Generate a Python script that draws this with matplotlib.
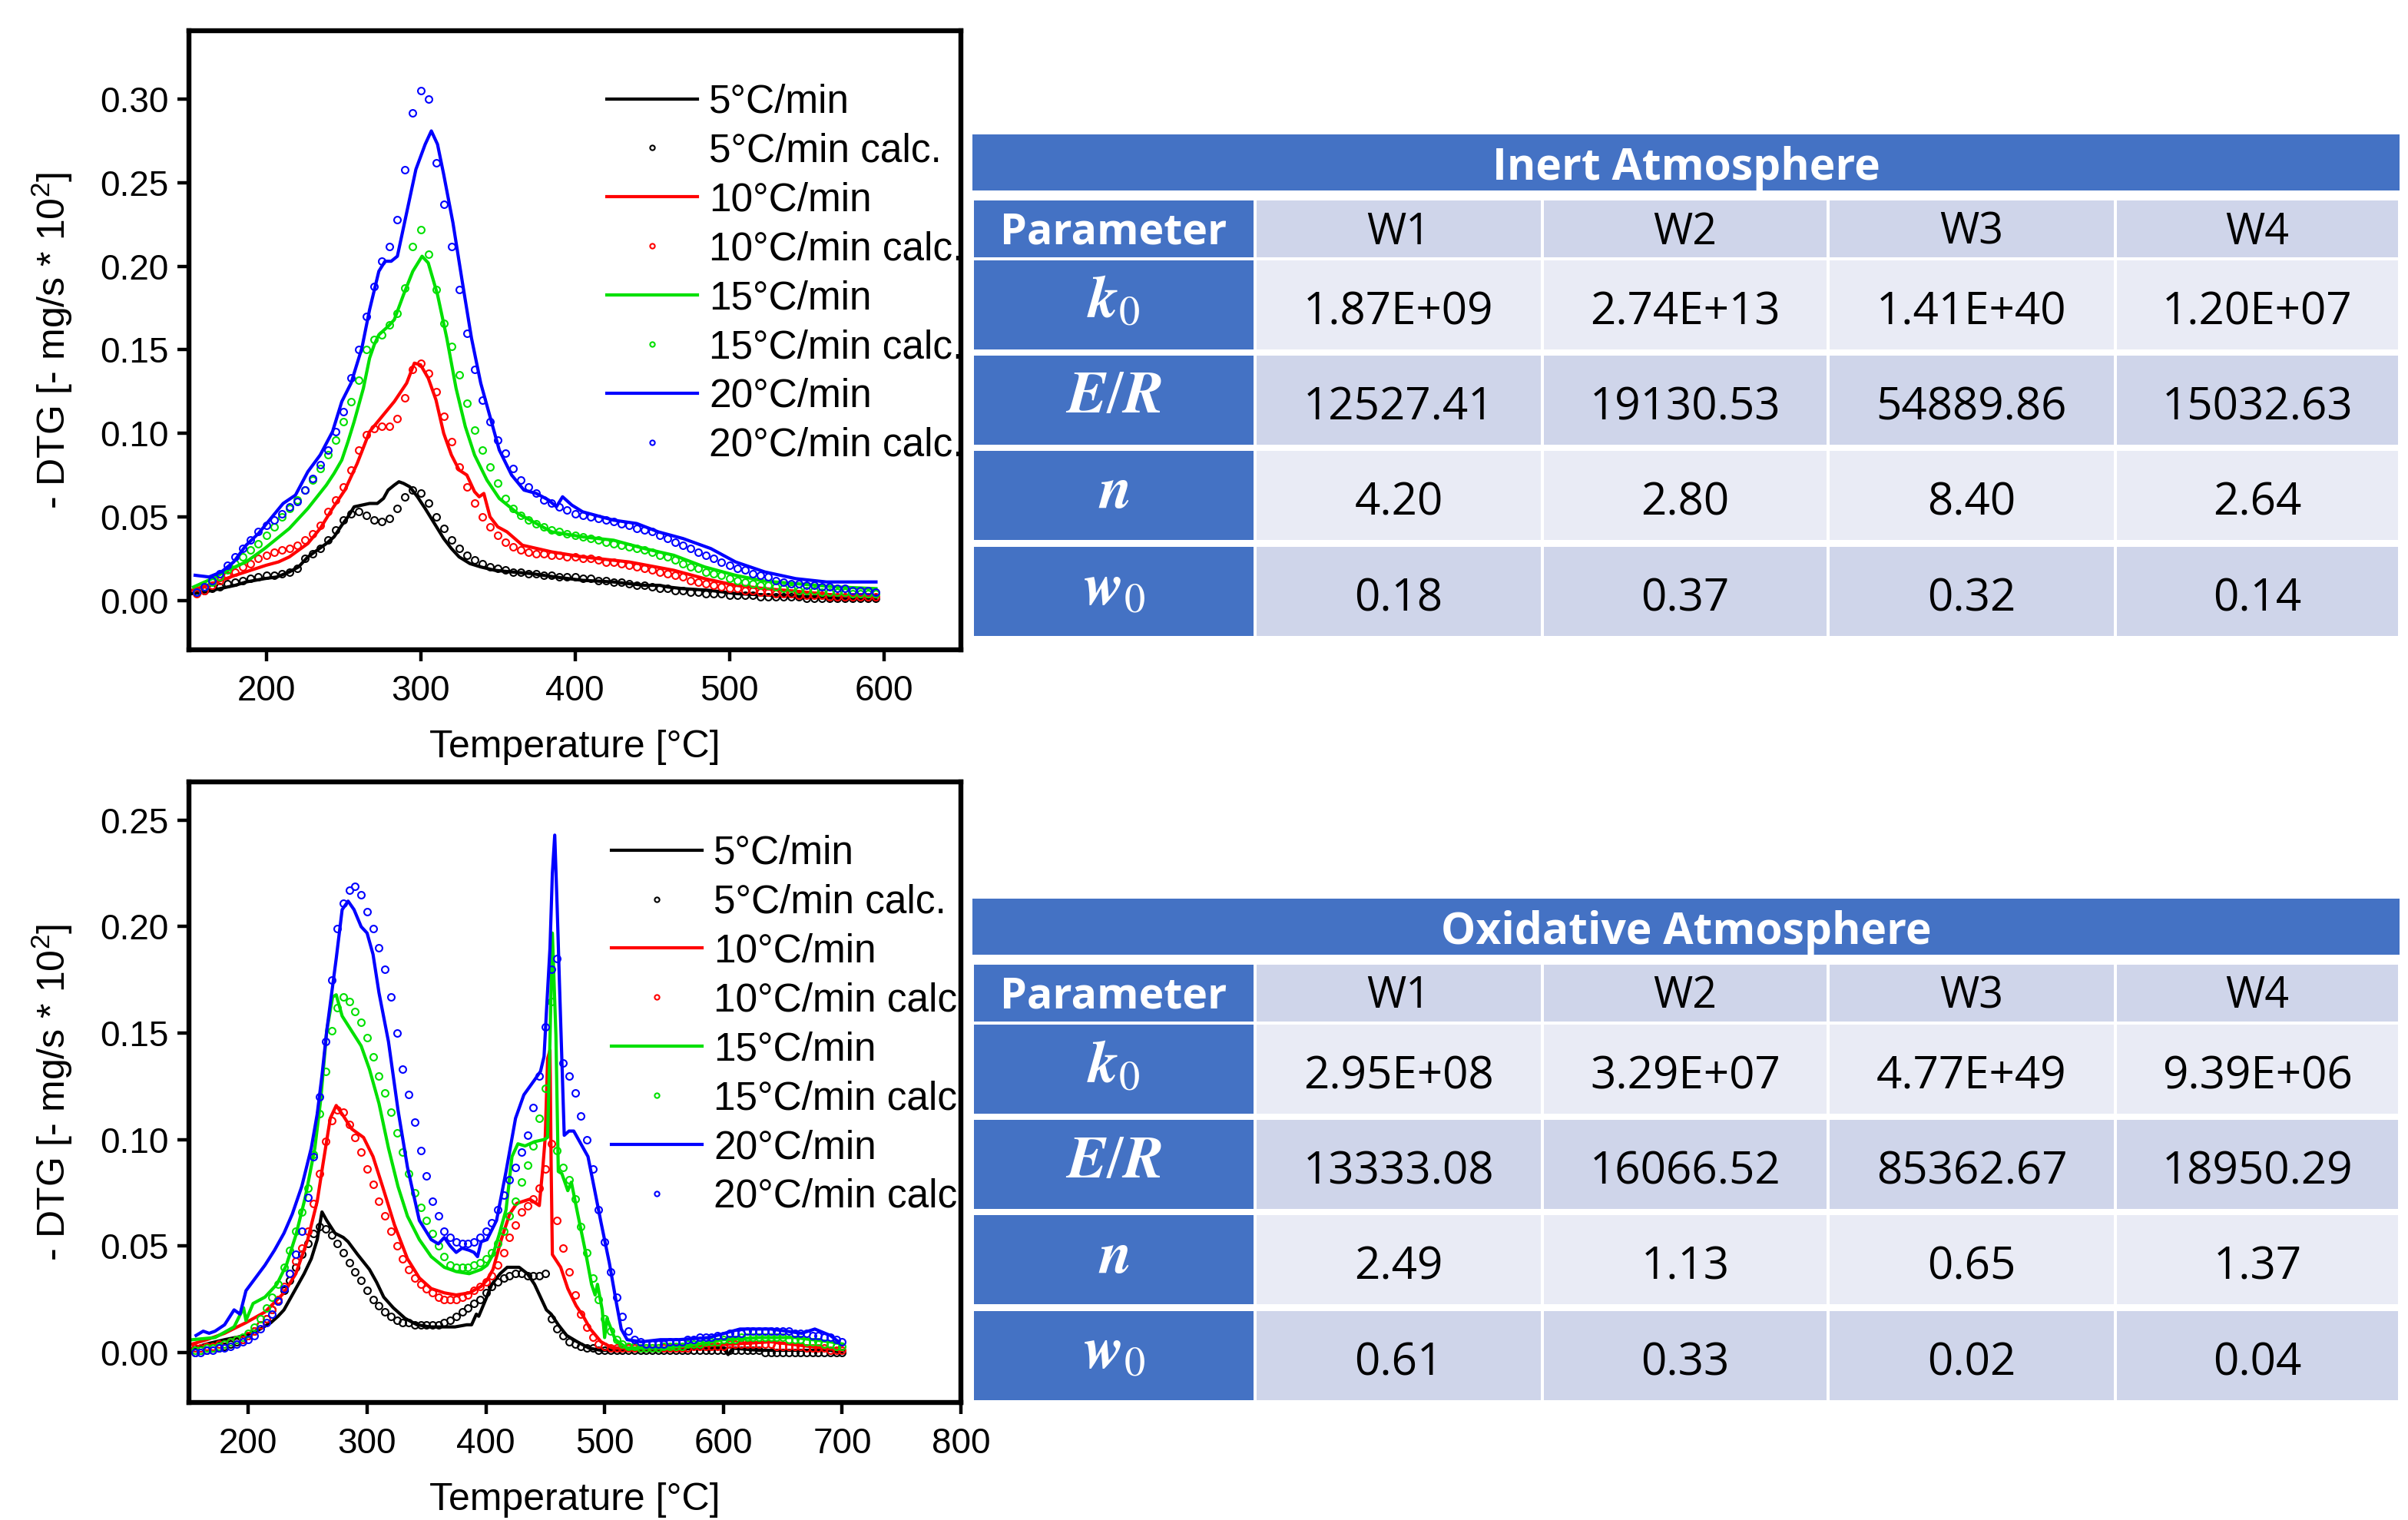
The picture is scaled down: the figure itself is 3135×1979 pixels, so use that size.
import matplotlib.pyplot as plt
from matplotlib.patches import Rectangle

plt.rcParams['font.family'] = 'Liberation Sans'
plt.rcParams['mathtext.fontset'] = 'custom'
plt.rcParams['mathtext.rm'] = 'Liberation Sans'
plt.rcParams['mathtext.it'] = 'Liberation Sans:italic'

rates = ['5°C/min', '10°C/min', '15°C/min', '20°C/min']
colors = ['black', '#ff0000', '#00e000', '#0000ff']

# ---------------- inert atmosphere (top) ----------------
t_in_5 = [152, 160, 170, 180, 187, 199, 207, 215, 221, 227, 233, 239, 244, 249, 253, 257, 262, 267, 272, 276,
          279, 283, 286, 289, 293, 298, 303, 309, 315, 320, 325, 332, 339, 348, 359, 372, 387, 405, 425, 445,
          455, 460, 470, 487, 505, 527, 550, 575, 595]
v_in_5 = [0.004, 0.005, 0.007, 0.009, 0.011, 0.013, 0.014, 0.017, 0.020, 0.026, 0.030, 0.034, 0.038, 0.045, 0.050, 0.056, 0.057, 0.058, 0.058, 0.061,
          0.066, 0.069, 0.071, 0.070, 0.068, 0.062, 0.055, 0.046, 0.037, 0.031, 0.026, 0.022, 0.020, 0.018, 0.017, 0.016, 0.014, 0.012, 0.011, 0.009,
          0.009, 0.008, 0.007, 0.006, 0.004, 0.003, 0.002, 0.001, 0.001]

t_in_10 = [152, 165, 180, 190, 200, 208, 215, 227, 235, 243, 251, 259, 267, 275, 283, 291, 296, 300, 305, 310,
           315, 320, 325, 330, 335, 338, 341, 345, 350, 356, 366, 385, 405, 435, 464, 484, 504, 523, 543, 570, 595]
v_in_10 = [0.006, 0.010, 0.015, 0.018, 0.021, 0.023, 0.026, 0.034, 0.043, 0.055, 0.066, 0.082, 0.101, 0.110, 0.119, 0.130, 0.142, 0.141, 0.133, 0.120,
           0.100, 0.087, 0.078, 0.075, 0.065, 0.062, 0.064, 0.050, 0.044, 0.041, 0.033, 0.029, 0.026, 0.023, 0.018, 0.013, 0.009, 0.007, 0.0055, 0.003, 0.002]

t_in_15 = [153, 165, 175, 187, 199, 207, 215, 221, 227, 233, 239, 244, 249, 253, 257, 260, 263, 267, 270, 273,
           279, 283, 289, 295, 301, 305, 311, 317, 323, 329, 335, 343, 351, 363, 375, 385, 405, 425, 445, 464,
           484, 504, 523, 543, 570, 595]
v_in_15 = [0.008, 0.013, 0.018, 0.023, 0.031, 0.037, 0.043, 0.049, 0.055, 0.062, 0.069, 0.076, 0.084, 0.095, 0.107, 0.117, 0.127, 0.145, 0.153, 0.159,
           0.164, 0.168, 0.183, 0.197, 0.206, 0.202, 0.183, 0.157, 0.127, 0.104, 0.087, 0.072, 0.061, 0.052, 0.046, 0.041, 0.038, 0.036, 0.031, 0.027,
           0.020, 0.015, 0.0115, 0.010, 0.008, 0.007]

t_in_20 = [154, 163, 171, 179, 187, 195, 203, 211, 219, 227, 235, 243, 249, 255, 262, 267, 273, 277, 281, 285,
           291, 297, 303, 307, 311, 315, 321, 327, 333, 339, 345, 351, 359, 367, 375, 383, 388, 392, 398, 405,
           425, 440, 454, 470, 488, 504, 523, 543, 563, 580, 595]
v_in_20 = [0.015, 0.014, 0.017, 0.023, 0.033, 0.040, 0.049, 0.058, 0.063, 0.077, 0.087, 0.101, 0.119, 0.130, 0.151, 0.174, 0.197, 0.203, 0.203, 0.206,
           0.232, 0.258, 0.273, 0.281, 0.273, 0.255, 0.226, 0.191, 0.157, 0.130, 0.110, 0.090, 0.075, 0.066, 0.064, 0.060, 0.056, 0.062, 0.057, 0.053,
           0.048, 0.046, 0.041, 0.037, 0.031, 0.023, 0.017, 0.013, 0.011, 0.011, 0.011]

t_in_calc = list(range(155, 600, 5))
c_in_5 = [0.005, 0.006, 0.007, 0.008, 0.010, 0.011, 0.012, 0.013, 0.014, 0.015,
          0.015, 0.016, 0.017, 0.019, 0.025, 0.028, 0.031, 0.036, 0.042, 0.048,
          0.052, 0.053, 0.051, 0.048, 0.047, 0.049, 0.055, 0.062, 0.066, 0.064,
          0.058, 0.050, 0.043, 0.036, 0.031, 0.027, 0.024, 0.022, 0.020, 0.019,
          0.018, 0.017, 0.017, 0.016, 0.016, 0.015, 0.015, 0.014, 0.014, 0.014,
          0.013, 0.013, 0.012, 0.012, 0.011, 0.011, 0.010, 0.009, 0.009, 0.008,
          0.007, 0.007, 0.006, 0.006, 0.005, 0.005, 0.004, 0.004, 0.004, 0.003,
          0.003, 0.003, 0.003, 0.002, 0.002, 0.002, 0.002, 0.002, 0.002, 0.001,
          0.001, 0.001, 0.001, 0.001, 0.001, 0.001, 0.001, 0.001, 0.001]
c_in_10 = [0.004, 0.006, 0.009, 0.012, 0.015, 0.017, 0.020, 0.022, 0.025, 0.027,
           0.029, 0.030, 0.031, 0.033, 0.036, 0.040, 0.045, 0.053, 0.060, 0.068,
           0.078, 0.090, 0.099, 0.103, 0.104, 0.104, 0.109, 0.121, 0.138, 0.142,
           0.136, 0.125, 0.110, 0.095, 0.080, 0.068, 0.058, 0.050, 0.044, 0.039,
           0.035, 0.032, 0.030, 0.029, 0.028, 0.028, 0.027, 0.027, 0.026, 0.026,
           0.025, 0.025, 0.024, 0.023, 0.023, 0.022, 0.021, 0.020, 0.019, 0.018,
           0.017, 0.016, 0.015, 0.014, 0.012, 0.011, 0.010, 0.009, 0.008, 0.007,
           0.007, 0.006, 0.006, 0.005, 0.005, 0.004, 0.004, 0.004, 0.003, 0.003,
           0.003, 0.003, 0.002, 0.002, 0.002, 0.002, 0.002, 0.002, 0.002]
c_in_15 = [0.005, 0.008, 0.011, 0.014, 0.018, 0.022, 0.026, 0.030, 0.034, 0.039,
           0.044, 0.050, 0.055, 0.060, 0.066, 0.072, 0.079, 0.087, 0.096, 0.107,
           0.119, 0.132, 0.150, 0.156, 0.159, 0.165, 0.172, 0.187, 0.212, 0.222,
           0.207, 0.186, 0.166, 0.152, 0.135, 0.118, 0.102, 0.090, 0.080, 0.070,
           0.061, 0.055, 0.051, 0.048, 0.046, 0.044, 0.042, 0.041, 0.040, 0.039,
           0.038, 0.037, 0.036, 0.035, 0.034, 0.033, 0.032, 0.031, 0.030, 0.029,
           0.027, 0.026, 0.024, 0.022, 0.020, 0.019, 0.017, 0.016, 0.015, 0.013,
           0.012, 0.011, 0.010, 0.009, 0.009, 0.008, 0.007, 0.007, 0.006, 0.006,
           0.006, 0.005, 0.005, 0.005, 0.005, 0.004, 0.004, 0.004, 0.004]
c_in_20 = [0.005, 0.008, 0.012, 0.016, 0.021, 0.026, 0.031, 0.036, 0.041, 0.045,
           0.048, 0.052, 0.056, 0.059, 0.066, 0.073, 0.081, 0.090, 0.101, 0.113,
           0.133, 0.150, 0.170, 0.188, 0.203, 0.212, 0.228, 0.258, 0.292, 0.305,
           0.300, 0.262, 0.237, 0.212, 0.186, 0.160, 0.138, 0.120, 0.107, 0.096,
           0.088, 0.079, 0.072, 0.068, 0.064, 0.060, 0.058, 0.056, 0.054, 0.052,
           0.051, 0.050, 0.049, 0.048, 0.047, 0.046, 0.045, 0.043, 0.042, 0.041,
           0.039, 0.037, 0.035, 0.033, 0.031, 0.029, 0.027, 0.025, 0.023, 0.021,
           0.019, 0.018, 0.016, 0.015, 0.014, 0.012, 0.011, 0.010, 0.010, 0.009,
           0.009, 0.008, 0.008, 0.007, 0.007, 0.006, 0.006, 0.006, 0.005]

# ---------------- oxidative atmosphere (bottom) ----------------
t_ox_5 = [154, 165, 180, 198, 210, 219, 225, 230, 240, 247, 253, 258, 262, 266, 273, 280, 284, 292, 302, 308,
          314, 322, 332, 342, 353, 364, 374, 384, 388, 392, 394, 400, 405, 412, 418, 423, 428, 435, 441, 446,
          451, 455, 461, 468, 477, 487, 497, 520, 550, 580, 600, 604, 608, 630, 660, 690, 700]
v_ox_5 = [0.002, 0.004, 0.006, 0.008, 0.011, 0.014, 0.017, 0.020, 0.030, 0.037, 0.044, 0.053, 0.066, 0.062, 0.056, 0.054, 0.052, 0.046, 0.039, 0.033,
          0.026, 0.021, 0.016, 0.013, 0.012, 0.012, 0.012, 0.013, 0.013, 0.018, 0.017, 0.025, 0.032, 0.037, 0.040, 0.040, 0.040, 0.037, 0.032, 0.026,
          0.020, 0.018, 0.013, 0.008, 0.005, 0.002, 0.001, 0.001, 0.001, 0.002, 0.002, -0.001, 0.002, 0.001, 0.001, 0.001, 0.000]

t_ox_10 = [153, 165, 180, 198, 214, 230, 240, 250, 258, 263, 269, 274, 279, 287, 297, 305, 313, 323, 334, 344,
           354, 365, 375, 386, 396, 401, 406, 413, 420, 426, 437, 445, 448, 450, 452, 454, 455, 456, 463, 469,
           476, 482, 488, 497, 507, 520, 550, 580, 610, 640, 670, 700]
v_ox_10 = [0.004, 0.006, 0.009, 0.014, 0.019, 0.028, 0.037, 0.053, 0.071, 0.089, 0.110, 0.116, 0.112, 0.105, 0.101, 0.092, 0.078, 0.060, 0.044, 0.035,
           0.030, 0.028, 0.027, 0.028, 0.031, 0.034, 0.039, 0.053, 0.065, 0.070, 0.072, 0.069, 0.087, 0.101, 0.138, 0.142, 0.087, 0.046, 0.040, 0.030,
           0.022, 0.017, 0.011, 0.005, 0.002, 0.002, 0.002, 0.003, 0.004, 0.005, 0.003, 0.001]

t_ox_15 = [153, 172, 188, 196, 198, 204, 214, 224, 232, 240, 248, 256, 261, 266, 271, 274, 279, 287, 295, 302,
           310, 318, 326, 334, 344, 354, 365, 375, 386, 396, 401, 406, 411, 417, 422, 427, 433, 441, 449, 452,
           454, 456, 459, 461, 464, 469, 472, 477, 484, 489, 492, 494, 498, 500, 502, 509, 519, 550, 580, 600,
           630, 660, 690, 700]
v_ox_15 = [0.006, 0.007, 0.012, 0.021, 0.015, 0.023, 0.026, 0.032, 0.041, 0.055, 0.073, 0.096, 0.119, 0.151, 0.167, 0.168, 0.158, 0.151, 0.144, 0.133,
           0.117, 0.096, 0.078, 0.064, 0.053, 0.045, 0.040, 0.038, 0.037, 0.039, 0.041, 0.046, 0.055, 0.067, 0.092, 0.098, 0.097, 0.099, 0.100, 0.101,
           0.147, 0.197, 0.149, 0.085, 0.084, 0.076, 0.080, 0.066, 0.047, 0.032, 0.027, 0.032, 0.020, 0.007, 0.016, 0.006, 0.002, 0.002, 0.004, 0.006,
           0.007, 0.007, 0.005, 0.004]

t_ox_20 = [156, 162, 167, 172, 180, 188, 193, 198, 206, 214, 222, 230, 237, 245, 253, 258, 262, 266, 270, 274,
           279, 284, 289, 295, 300, 305, 310, 318, 326, 334, 344, 354, 360, 365, 370, 375, 380, 386, 390, 393,
           396, 401, 409, 417, 425, 432, 441, 446, 449, 451, 454, 456, 458, 460, 462, 466, 470, 474, 481, 486,
           491, 497, 504, 510, 514, 519, 531, 547, 562, 588, 614, 640, 666, 677, 690, 697]
v_ox_20 = [0.008, 0.010, 0.009, 0.010, 0.013, 0.020, 0.018, 0.029, 0.035, 0.041, 0.048, 0.056, 0.065, 0.078, 0.096, 0.112, 0.130, 0.151, 0.168, 0.185,
           0.208, 0.212, 0.208, 0.200, 0.197, 0.187, 0.169, 0.146, 0.114, 0.087, 0.062, 0.053, 0.051, 0.054, 0.050, 0.047, 0.049, 0.048, 0.047, 0.045,
           0.052, 0.053, 0.062, 0.085, 0.110, 0.121, 0.128, 0.132, 0.139, 0.160, 0.190, 0.225, 0.243, 0.210, 0.173, 0.102, 0.104, 0.104, 0.097, 0.092,
           0.078, 0.061, 0.042, 0.023, 0.011, 0.006, 0.005, 0.006, 0.006, 0.007, 0.011, 0.011, 0.009, 0.011, 0.008, 0.005]

t_ox_calc = list(range(155, 705, 5))
c_ox_5 = [0.000, 0.001, 0.001, 0.002, 0.002, 0.003, 0.004, 0.005, 0.006, 0.008,
          0.010, 0.013, 0.016, 0.020, 0.024, 0.029, 0.034, 0.040, 0.046, 0.051,
          0.056, 0.059, 0.058, 0.055, 0.051, 0.047, 0.042, 0.038, 0.034, 0.029,
          0.025, 0.022, 0.019, 0.017, 0.015, 0.014, 0.014, 0.013, 0.013, 0.013,
          0.013, 0.013, 0.014, 0.015, 0.017, 0.019, 0.021, 0.023, 0.025, 0.028,
          0.031, 0.033, 0.035, 0.036, 0.037, 0.037, 0.036, 0.036, 0.036, 0.037,
          0.016, 0.011, 0.008, 0.005, 0.004, 0.003, 0.002, 0.002, 0.001, 0.001,
          0.001, 0.001, 0.001, 0.001, 0.001, 0.001, 0.001, 0.001, 0.001, 0.001,
          0.001, 0.001, 0.001, 0.001, 0.001, 0.001, 0.001, 0.001, 0.001, 0.001,
          0.001, 0.001, 0.001, 0.001, 0.001, 0.001, 0.000, 0.000, 0.000, 0.000,
          0.000, 0.000, 0.000, 0.000, 0.000, 0.000, 0.000, 0.000, 0.000, 0.000]
c_ox_10 = [0.002, 0.002, 0.003, 0.003, 0.004, 0.004, 0.005, 0.006, 0.006, 0.008,
           0.010, 0.013, 0.016, 0.020, 0.025, 0.031, 0.037, 0.043, 0.049, 0.057,
           0.070, 0.084, 0.099, 0.109, 0.114, 0.113, 0.107, 0.101, 0.094, 0.086,
           0.079, 0.071, 0.064, 0.057, 0.050, 0.044, 0.039, 0.035, 0.032, 0.030,
           0.028, 0.026, 0.025, 0.025, 0.025, 0.026, 0.027, 0.029, 0.031, 0.033,
           0.036, 0.041, 0.047, 0.054, 0.060, 0.066, 0.069, 0.072, 0.077, 0.086,
           0.098, 0.062, 0.049, 0.038, 0.027, 0.018, 0.012, 0.007, 0.004, 0.003,
           0.002, 0.002, 0.002, 0.002, 0.002, 0.002, 0.002, 0.002, 0.002, 0.002,
           0.002, 0.002, 0.002, 0.002, 0.003, 0.003, 0.003, 0.003, 0.003, 0.003,
           0.004, 0.004, 0.004, 0.004, 0.004, 0.004, 0.004, 0.004, 0.003, 0.003,
           0.003, 0.003, 0.003, 0.002, 0.002, 0.002, 0.002, 0.001, 0.001, 0.001]
c_ox_15 = [0.001, 0.001, 0.002, 0.002, 0.003, 0.004, 0.005, 0.006, 0.007, 0.009,
           0.012, 0.016, 0.021, 0.026, 0.032, 0.040, 0.048, 0.057, 0.066, 0.077,
           0.093, 0.112, 0.132, 0.151, 0.162, 0.167, 0.165, 0.160, 0.155, 0.148,
           0.139, 0.130, 0.122, 0.113, 0.103, 0.094, 0.084, 0.075, 0.068, 0.062,
           0.056, 0.050, 0.045, 0.041, 0.040, 0.040, 0.040, 0.041, 0.042, 0.044,
           0.047, 0.051, 0.057, 0.064, 0.071, 0.080, 0.088, 0.097, 0.110, 0.124,
           0.165, 0.095, 0.087, 0.081, 0.072, 0.059, 0.047, 0.035, 0.025, 0.016,
           0.010, 0.006, 0.004, 0.003, 0.003, 0.002, 0.002, 0.002, 0.002, 0.003,
           0.003, 0.003, 0.003, 0.004, 0.004, 0.004, 0.005, 0.005, 0.005, 0.006,
           0.006, 0.006, 0.007, 0.007, 0.007, 0.007, 0.007, 0.007, 0.007, 0.007,
           0.006, 0.006, 0.006, 0.005, 0.005, 0.005, 0.004, 0.004, 0.003, 0.003]
c_ox_20 = [0.000, 0.000, 0.001, 0.001, 0.002, 0.002, 0.003, 0.004, 0.005, 0.006,
           0.008, 0.011, 0.014, 0.018, 0.024, 0.030, 0.037, 0.046, 0.057, 0.073,
           0.092, 0.120, 0.146, 0.175, 0.199, 0.211, 0.217, 0.219, 0.215, 0.207,
           0.199, 0.190, 0.180, 0.167, 0.150, 0.133, 0.121, 0.108, 0.095, 0.083,
           0.071, 0.064, 0.057, 0.054, 0.052, 0.051, 0.051, 0.052, 0.054, 0.057,
           0.061, 0.067, 0.074, 0.081, 0.087, 0.094, 0.102, 0.115, 0.130, 0.153,
           0.180, 0.185, 0.136, 0.130, 0.122, 0.111, 0.100, 0.086, 0.067, 0.052,
           0.038, 0.026, 0.017, 0.010, 0.006, 0.005, 0.004, 0.004, 0.004, 0.004,
           0.005, 0.005, 0.005, 0.006, 0.006, 0.007, 0.007, 0.007, 0.008, 0.008,
           0.009, 0.009, 0.009, 0.010, 0.010, 0.010, 0.010, 0.010, 0.010, 0.010,
           0.010, 0.009, 0.009, 0.009, 0.008, 0.008, 0.007, 0.007, 0.006, 0.005]

calc_labels_in = ['5°C/min calc.', '10°C/min calc.', '15°C/min calc.', '20°C/min calc.']
calc_labels_ox = ['5°C/min calc.', '10°C/min calc', '15°C/min calc', '20°C/min calc']

# ---------------- tables ----------------
tab_cols = ['Parameter', 'W1', 'W2', 'W3', 'W4']
tab_params = [r'$\mathbfit{k}_\mathrm{0}$', r'$\mathbfit{E}/\mathbfit{R}$', r'$\mathbfit{n}$',
              r'$\mathbfit{w}_\mathrm{0}$']
inert_vals = [['1.87E+09', '2.74E+13', '1.41E+40', '1.20E+07'],
              ['12527.41', '19130.53', '54889.86', '15032.63'],
              ['4.20', '2.80', '8.40', '2.64'],
              ['0.18', '0.37', '0.32', '0.14']]
oxid_vals = [['2.95E+08', '3.29E+07', '4.77E+49', '9.39E+06'],
             ['13333.08', '16066.52', '85362.67', '18950.29'],
             ['2.49', '1.13', '0.65', '1.37'],
             ['0.61', '0.33', '0.02', '0.04']]

W, H = 3135, 1979
fig = plt.figure(figsize=(W / 200, H / 200), dpi=200)


def panel(rect, lines_t, lines_v, calc_t, calc_v, calc_labels, xlim, ylim, xticks, yticks, leg_xy):
    ax = fig.add_axes(rect)
    for i in range(4):
        ax.plot(lines_t[i], lines_v[i], '-', color=colors[i], lw=1.5, label=rates[i])
        ax.plot(calc_t, calc_v[i], 'o', color=colors[i], mfc='none', ms=3.2, mew=0.75,
                label=calc_labels[i])
    ax.set_xlim(*xlim)
    ax.set_ylim(*ylim)
    ax.set_xticks(xticks)
    ax.set_yticks(yticks)
    ax.set_yticklabels(['%.2f' % y for y in yticks])
    for s in ax.spines.values():
        s.set_linewidth(2.3)
    ax.tick_params(direction='out', length=5.5, width=1.6, labelsize=16.5, pad=4)
    ax.tick_params(axis='x', pad=6)
    ax.set_xlabel('Temperature [°C]', fontsize=18, labelpad=10)
    ax.set_ylabel('- DTG [- mg/s * 10$^2$]', fontsize=18, labelpad=12)
    ax.legend(loc='upper left', bbox_to_anchor=leg_xy, frameon=False, fontsize=18.5,
              borderpad=0, borderaxespad=0, handlelength=2.3, handletextpad=0.3,
              labelspacing=0.29, markerscale=0.7, numpoints=1)
    return ax


panel([246 / W, 1 - 846 / H, 1005 / W, 806 / H],
      [t_in_5, t_in_10, t_in_15, t_in_20], [v_in_5, v_in_10, v_in_15, v_in_20],
      t_in_calc, [c_in_5, c_in_10, c_in_15, c_in_20], calc_labels_in,
      (150, 650), (-0.0296, 0.341), [200, 300, 400, 500, 600],
      [0.0, 0.05, 0.10, 0.15, 0.20, 0.25, 0.30], (0.541, 0.915))

panel([246 / W, 1 - 1826 / H, 1005 / W, 808 / H],
      [t_ox_5, t_ox_10, t_ox_15, t_ox_20], [v_ox_5, v_ox_10, v_ox_15, v_ox_20],
      t_ox_calc, [c_ox_5, c_ox_10, c_ox_15, c_ox_20], calc_labels_ox,
      (150, 800), (-0.0235, 0.268), [200, 300, 400, 500, 600, 700, 800],
      [0.0, 0.05, 0.10, 0.15, 0.20, 0.25], (0.547, 0.915))

# ---------------- table overlay in pixel coordinates ----------------
ov = fig.add_axes([0, 0, 1, 1])
ov.set_xlim(0, W)
ov.set_ylim(H, 0)
ov.axis('off')

BLUE = '#4472C4'
DARK = '#CFD5EA'
LIGHT = '#E9EBF5'
xs = [1266, 1634, 2008, 2380, 2754, 3124]
row_tops = [164, 288, 412, 537]
row_h = 120
tfont = 'Open Sans'


def table(y0, title, vals):
    ov.add_patch(Rectangle((xs[0], y0), xs[-1] - xs[0], 73, fc=BLUE, ec='none'))
    ov.text((xs[0] + xs[-1]) / 2, y0 + 44, title, color='white', fontsize=20.5,
            fontweight='bold', family=tfont, ha='center', va='center')
    for j in range(5):
        x0, x1 = xs[j] + 2, xs[j + 1] - 2
        fc = BLUE if j == 0 else DARK
        ov.add_patch(Rectangle((x0, y0 + 86), x1 - x0, 74, fc=fc, ec='none'))
        ov.text((x0 + x1) / 2, y0 + 128, tab_cols[j], fontsize=20, family=tfont,
                color='white' if j == 0 else 'black',
                fontweight='bold' if j == 0 else 'normal', ha='center', va='center')
    for i in range(4):
        top = y0 + row_tops[i]
        for j in range(5):
            x0, x1 = xs[j] + 2, xs[j + 1] - 2
            if j == 0:
                fc = BLUE
            else:
                fc = LIGHT if i % 2 == 0 else DARK
            ov.add_patch(Rectangle((x0, top), x1 - x0, row_h - 4, fc=fc, ec='none'))
            if j == 0:
                ov.text((x0 + x1) / 2, top + row_h / 2 - 6, tab_params[i], color='white',
                        fontsize=28, math_fontfamily='stix', ha='center', va='center')
            else:
                ov.text((x0 + x1) / 2, top + row_h / 2 + 8, vals[i][j - 1], color='black',
                        fontsize=21, family=tfont, ha='center', va='center')


table(175, 'Inert Atmosphere', inert_vals)
table(1170, 'Oxidative Atmosphere', oxid_vals)

fig.savefig('out.png', dpi=200)
